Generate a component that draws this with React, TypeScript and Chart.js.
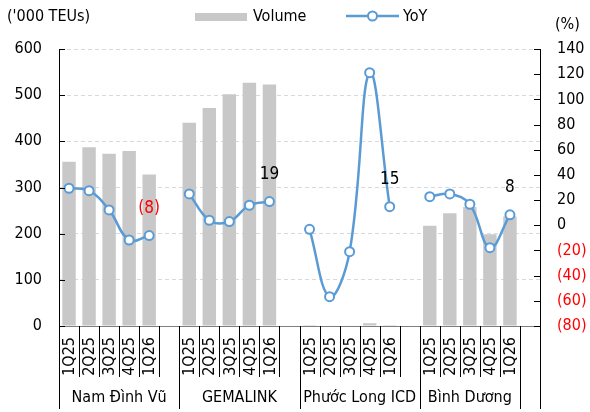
import React, { useEffect, useRef } from "react";
import { Chart, registerables } from "chart.js";

Chart.register(...registerables);

const FONT = "Tahoma, 'DejaVu Sans Condensed', 'Liberation Sans', sans-serif";

const groups = ["Nam Đình Vũ", "GEMALINK", "Phước Long ICD", "Bình Dương"];
const quarters = ["1Q25", "2Q25", "3Q25", "4Q25", "1Q26"];
// blank slots following each group's quarters (belonging to the group label span)
const groupBlankSlots = [1, 1, 1, 0];
const trailingBlankSlots = 1;

const volNamDinhVu = [356, 387, 373, 379, 328];
const volGemalink = [440, 472, 502, 527, 523];
const volPhuocLong = [2, 1, 1, 6, 2];
const volBinhDuong = [217, 244, 258, 199, 237];

const yoyNamDinhVu = [29.4, 27.5, 12.2, -11.7, -8.2];
const yoyGemalink = [24.9, 4.0, 2.9, 15.9, 18.8];
const yoyPhuocLong = [-3.2, -56.7, -21.0, 121.2, 14.8];
const yoyBinhDuong = [22.7, 24.9, 16.7, -17.8, 8.3];

const leftMin = 0;
const leftMax = 600;
const leftStep = 100;
const rightMin = -80;
const rightMax = 140;
const rightStep = 20;

const labelledQuarter = "1Q26";
const leftTitle = "('000 TEUs)";
const rightTitle = "(%)";
const volumeName = "Volume";
const yoyName = "YoY";

const BAR_COLOR = "#c8c8c8";
const LINE_COLOR = "#5B9BD5";

const volGroups = [volNamDinhVu, volGemalink, volPhuocLong, volBinhDuong];
const yoyGroups = [yoyNamDinhVu, yoyGemalink, yoyPhuocLong, yoyBinhDuong];

function build() {
  const categories: string[] = [];
  const vol: (number | null)[] = [];
  const yoy: (number | null)[] = [];
  const spans: { start: number; count: number; name: string }[] = [];
  const labelIdx: number[] = [];
  groups.forEach((g, gi) => {
    const start = categories.length;
    quarters.forEach((q, qi) => {
      if (q === labelledQuarter) labelIdx.push(categories.length);
      categories.push(q);
      vol.push(volGroups[gi][qi]);
      yoy.push(yoyGroups[gi][qi]);
    });
    for (let k = 0; k < groupBlankSlots[gi]; k++) {
      categories.push("");
      vol.push(null);
      yoy.push(null);
    }
    spans.push({ start, count: categories.length - start, name: g });
  });
  for (let k = 0; k < trailingBlankSlots; k++) {
    categories.push("");
    vol.push(null);
    yoy.push(null);
  }
  return { categories, vol, yoy, spans, labelIdx };
}

const fmt = (v: number) => (v < 0 ? `(${Math.round(-v)})` : `${Math.round(v)}`);

export default function App() {
  const ref = useRef<HTMLCanvasElement | null>(null);

  useEffect(() => {
    if (!ref.current) return;
    const { categories, vol, yoy, spans, labelIdx } = build();

    const overlay = {
      id: "overlay",
      afterDraw(chart: any) {
        const ctx = chart.ctx as CanvasRenderingContext2D;
        const area = chart.chartArea;
        const x = chart.scales.x;
        const y = chart.scales.y;
        const y1 = chart.scales.y1;
        const n = categories.length;
        const w = (area.right - area.left) / n;
        ctx.save();

        // x axis line
        ctx.strokeStyle = "#7f7f7f";
        ctx.lineWidth = 1;
        ctx.beginPath();
        ctx.moveTo(area.left, Math.round(area.bottom) + 0.5);
        ctx.lineTo(area.right, Math.round(area.bottom) + 0.5);
        ctx.stroke();

        // category separators
        const longSet = new Set<number>([0, n]);
        spans.forEach((s) => longSet.add(s.start + s.count));
        const shortSet = new Set<number>();
        spans.forEach((s) => {
          for (let k = 1; k <= quarters.length; k++) shortSet.add(s.start + k);
        });
        ctx.strokeStyle = "#000";
        for (let b = 0; b <= n; b++) {
          const isLong = longSet.has(b);
          if (!isLong && !shortSet.has(b)) continue;
          const px = Math.round(area.left + b * w) + 0.5;
          ctx.beginPath();
          ctx.moveTo(px, area.bottom);
          ctx.lineTo(px, area.bottom + (isLong ? 83 : 51));
          ctx.stroke();
        }

        // rotated quarter labels
        ctx.fillStyle = "#000";
        ctx.font = `16px ${FONT}`;
        categories.forEach((c, i) => {
          if (!c) return;
          const cx = x.getPixelForValue(i);
          ctx.save();
          ctx.translate(cx + 1, area.bottom + 11);
          ctx.rotate(-Math.PI / 2);
          ctx.textAlign = "right";
          ctx.textBaseline = "middle";
          ctx.fillText(c, 0, 0);
          ctx.restore();
        });

        // group labels
        ctx.textAlign = "center";
        ctx.textBaseline = "middle";
        spans.forEach((s) => {
          const l = area.left + s.start * w;
          const r = area.left + (s.start + s.count) * w;
          ctx.fillText(s.name, (l + r) / 2, area.bottom + 72);
        });

        // inward ticks on left axis
        ctx.strokeStyle = "#000";
        for (let v = leftMin; v <= leftMax; v += leftStep) {
          const py = Math.round(y.getPixelForValue(v)) + 0.5;
          ctx.beginPath();
          ctx.moveTo(area.left, py);
          ctx.lineTo(area.left + 6, py);
          ctx.stroke();
        }
        // inward ticks on right axis
        for (let v = rightMin; v <= rightMax; v += rightStep) {
          const py = Math.round(y1.getPixelForValue(v)) + 0.5;
          ctx.beginPath();
          ctx.moveTo(area.right - 6, py);
          ctx.lineTo(area.right, py);
          ctx.stroke();
        }

        // titles
        ctx.fillStyle = "#000";
        ctx.font = `16px ${FONT}`;
        ctx.textAlign = "left";
        ctx.textBaseline = "middle";
        ctx.fillText(leftTitle, 7, 17);
        ctx.fillText(rightTitle, 555, 25);

        // legend
        ctx.fillStyle = BAR_COLOR;
        ctx.fillRect(195, 13, 52, 8);
        ctx.fillStyle = "#000";
        ctx.fillText(volumeName, 253, 17);
        ctx.strokeStyle = LINE_COLOR;
        ctx.lineWidth = 2.5;
        ctx.beginPath();
        ctx.moveTo(346, 16);
        ctx.lineTo(399, 16);
        ctx.stroke();
        ctx.beginPath();
        ctx.arc(372.5, 16, 4.5, 0, Math.PI * 2);
        ctx.fillStyle = "#fff";
        ctx.fill();
        ctx.lineWidth = 2;
        ctx.stroke();
        ctx.fillStyle = "#000";
        ctx.fillText(yoyName, 403, 17);

        // data labels
        const meta = chart.getDatasetMeta(1);
        ctx.font = `17px ${FONT}`;
        ctx.textAlign = "center";
        labelIdx.forEach((i) => {
          const v = yoy[i] as number;
          const pt = meta.data[i];
          ctx.fillStyle = v < 0 ? "#ff0000" : "#000";
          ctx.fillText(fmt(v), pt.x, pt.y - 27);
        });
        ctx.restore();
      },
    };

    const chart = new Chart(ref.current, {
      type: "bar",
      data: {
        labels: categories,
        datasets: [
          {
            type: "bar",
            label: volumeName,
            data: vol,
            backgroundColor: BAR_COLOR,
            barPercentage: 0.67,
            categoryPercentage: 1,
            yAxisID: "y",
            order: 1,
          },
          {
            type: "line",
            label: yoyName,
            data: yoy,
            borderColor: LINE_COLOR,
            borderWidth: 2.5,
            pointRadius: 4.5,
            pointBorderWidth: 2,
            pointBackgroundColor: "#fff",
            pointBorderColor: LINE_COLOR,
            tension: 0.4,
            spanGaps: false,
            yAxisID: "y1",
            order: 0,
          } as any,
        ],
      },
      options: {
        responsive: false,
        animation: false,
        layout: { padding: { top: 49, bottom: 86, left: 0, right: 0 } },
        plugins: { legend: { display: false }, tooltip: { enabled: false } },
        scales: {
          x: { display: false, offset: true, grid: { display: false } },
          y: {
            position: "left",
            min: leftMin,
            max: leftMax,
            ticks: { stepSize: leftStep, color: "#000", padding: 17, font: { family: FONT, size: 16 } },
            grid: { color: "#d9d9d9", drawTicks: false, lineWidth: 1 },
            border: { display: true, color: "#000", dash: [4, 3] },
            afterFit: (s: any) => {
              s.width = 59;
            },
          },
          y1: {
            position: "right",
            min: rightMin,
            max: rightMax,
            ticks: {
              stepSize: rightStep,
              padding: 17,
              font: { family: FONT, size: 16 },
              callback: (v: any) => fmt(Number(v)),
              color: (c: any) => (c.tick && c.tick.value < 0 ? "#ff0000" : "#000"),
            },
            grid: { drawOnChartArea: false, drawTicks: false },
            border: { display: true, color: "#000" },
            afterFit: (s: any) => {
              s.width = 50;
            },
          },
        },
      } as any,
      plugins: [overlay],
    });
    return () => chart.destroy();
  }, []);

  return (
    <div style={{ position: "absolute", left: 0, top: 0, width: 590, height: 412, background: "#fff" }}>
      <canvas ref={ref} width={590} height={412} style={{ display: "block", width: 590, height: 412 }} />
    </div>
  );
}
